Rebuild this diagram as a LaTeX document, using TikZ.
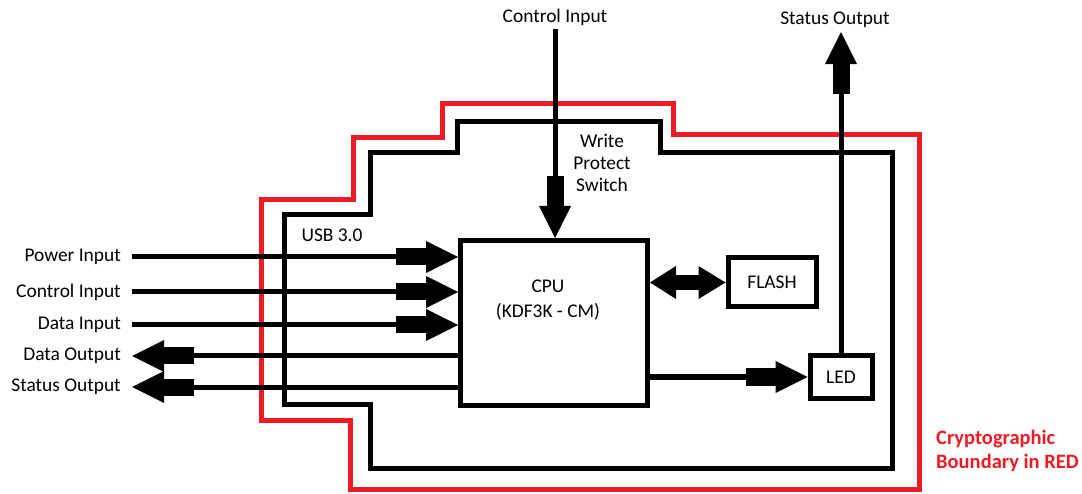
\documentclass[tikz,border=0pt]{standalone}
\usepackage{fontspec}
\setmainfont{Carlito}
\usepackage{xcolor}
\usepackage{tikz}
\usetikzlibrary{positioning, arrows.meta}
\definecolor{bndRed}{RGB}{237, 28, 36}

\begin{document}
\begin{tikzpicture}[x=1pt, y=-1pt,
        lbl/.style={font=\fontsize{19.4}{22}\selectfont, inner xsep=0pt, inner ysep=4pt, align=center},
        sidelbl/.style={lbl, anchor=east, inner xsep=11pt},
        box/.style={draw, line width=5pt, rectangle, inner sep=0pt},
        bigarrow/.style={line width=5pt, -{Rectangle[length=30pt, width=17pt, line width=0pt] Triangle[length=32pt, width=32pt, line width=0pt]}},
        dblarrow/.style={line width=15pt, {Triangle[length=26pt, width=33pt, line width=0pt]}-{Triangle[length=27pt, width=33pt, line width=0pt]}},
        boundary/.style={line width=5pt, line join=miter}]
        \useasboundingbox (0,0) rectangle (1082,494);
        % boundaries
        \draw[boundary, bndRed] (261,200) -- (353,200) -- (353,138) -- (442,138) -- (442,104) -- (673,104) -- (673,135) -- (919,135) -- (919,489) -- (350,489) -- (350,420) -- (261,420) -- cycle;
        \draw[boundary] (284,215) -- (370,215) -- (370,153) -- (457,153) -- (457,122) -- (660,122) -- (660,153) -- (892,153) -- (892,468) -- (370,468) -- (370,404) -- (284,404) -- cycle;
        % blocks
        \node[box, minimum width=187pt, minimum height=165pt, anchor=north west] (cpu) at (458,238) {};
        \node[lbl, font=\fontsize{19.4}{24.3}\selectfont] (cputxt) at (548,300) {CPU\\(KDF3K - CM)};
        \node[box, lbl, minimum width=88pt, minimum height=49pt] (flash) at (772,282.5) {FLASH};
        \node[box, lbl, minimum width=62pt, minimum height=42pt] (led) at (841,377) {LED};
        % labels
        \node[sidelbl] (pin) at (132,257) {Power Input};
        \node[sidelbl] (cin) at (132,292) {Control Input};
        \node[sidelbl] (din) at (132,325) {Data Input};
        \node[sidelbl] (dout) at (132,356) {Data Output};
        \node[sidelbl] (sout) at (132,387) {Status Output};
        \node[lbl] (ctop) at (555,17) {Control Input};
        \node[lbl] (stop) at (835,20) {Status Output};
        \node[lbl] (usb) at (332,235) {USB 3.0};
        \node[lbl] (wps) at (602,163) {Write\\Protect\\Switch};
        \node[lbl, font=\bfseries\fontsize{20.5}{24}\selectfont, text=bndRed, align=left, anchor=west] (crypt) at (936,451) {Cryptographic\\Boundary in RED};
        % connectors
        \foreach \src in {pin, cin, din}
            \draw[bigarrow] (\src.east) -- (\src.east -| cpu.west);
        \foreach \dst in {dout, sout}
            \draw[bigarrow] (\dst.east -| cpu.west) -- (\dst.east);
        \draw[bigarrow] (ctop.south) -- (ctop.south |- cpu.north);
        \draw[bigarrow] (led.north) -- (led.north |- stop.south);
        \draw[dblarrow] (cpu.east |- flash.west) -- (flash.west);
        \draw[bigarrow] (cpu.east |- led.west) -- (led.west);
    \end{tikzpicture}
\end{document}
